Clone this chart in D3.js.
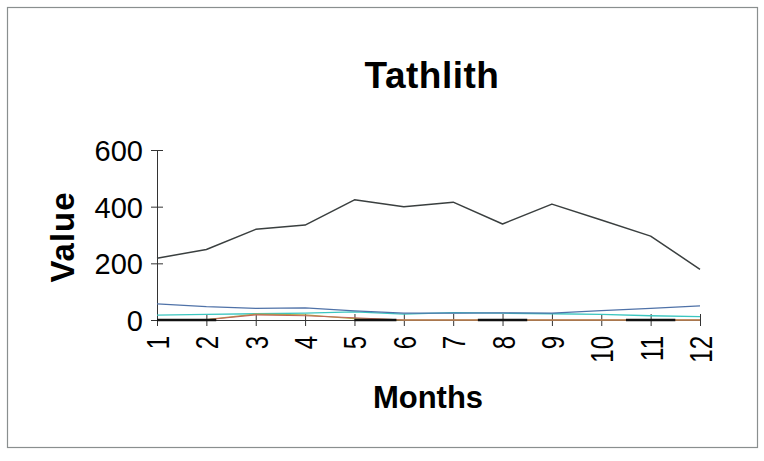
<!DOCTYPE html>
<html>
<head>
<meta charset="utf-8">
<script src="https://cdn.jsdelivr.net/npm/d3@7"></script>
<style>
  html, body { margin: 0; padding: 0; background: #fff; }
  svg { display: block; font-family: "Liberation Sans", Arial, sans-serif; }
</style>
</head>
<body>
<svg id="chart" width="764" height="461"></svg>
<script>
// Monthly values for Tathlith
const months = [1, 2, 3, 4, 5, 6, 7, 8, 9, 10, 11, 12];
const seriesMain   = [218, 249, 320, 335, 424, 400, 416, 339, 409, 353, 296, 179];
const seriesBlue   = [57, 47, 41, 43, 32, 24, 24, 25, 24, 33, 41, 50];
const seriesCyan   = [17, 20, 22, 24, 29, 21, 26, 24, 22, 20, 15, 12];
const seriesOlive  = [0, 1, 21, 18, 5, 0, 0, 0, 0, 0, 0, 0];
const seriesRed    = [0, 1, 18, 15, 8, 0, 0, 0, 0, 0, 0, 0];
const seriesBlack  = [0, 0, 0, 0, 0, 0, 0, 0, 0, 0, 0, 0];
const yTicks = [0, 200, 400, 600];

const svg = d3.select("#chart");

// outer chart frame
svg.append("rect")
  .attr("x", 7.5).attr("y", 7.5)
  .attr("width", 750).attr("height", 440)
  .attr("fill", "#fff")
  .attr("stroke", "#8a8f8f").attr("stroke-width", 1.2);

const x = d3.scalePoint().domain(months).range([157, 700]);
const y = d3.scaleLinear().domain([0, 600]).range([320, 150]);

// title
svg.append("text")
  .attr("x", 432).attr("y", 88)
  .attr("text-anchor", "middle")
  .attr("font-size", 37).attr("font-weight", "bold")
  .attr("letter-spacing", 0.5)
  .text("Tathlith");

// y axis
const yAxis = svg.append("g")
  .attr("transform", `translate(${x(1)},0)`)
  .call(d3.axisLeft(y).tickValues(yTicks).tickSizeInner(6).tickSizeOuter(0).tickPadding(8));
yAxis.select(".domain").attr("stroke", "#333");
yAxis.selectAll(".tick line").attr("stroke", "#333").attr("x2", 6).attr("x1", -6);
yAxis.selectAll(".tick text")
  .attr("font-size", 29).attr("fill", "#000")
  .attr("font-family", "'Liberation Sans', Arial, sans-serif")
  .attr("dy", "0.36em");

// x axis, labels turned to read upward in a condensed face
const xAxis = svg.append("g")
  .attr("transform", `translate(0,${y(0)})`)
  .call(d3.axisBottom(x).tickSizeInner(6).tickSizeOuter(0).tickPadding(6));
xAxis.select(".domain").attr("stroke", "#333");
xAxis.selectAll(".tick line").attr("stroke", "#333").attr("y1", -6).attr("y2", 6);
xAxis.selectAll(".tick text")
  .attr("font-size", 32).attr("fill", "#000")
  .attr("font-family", "'Liberation Sans', Arial, sans-serif")
  .attr("text-anchor", "end")
  .attr("transform", "translate(0,16) rotate(-90) scale(0.75,1)")
  .attr("x", 0).attr("y", 0).attr("dy", "0.36em");

// axis titles
svg.append("text")
  .attr("transform", "translate(74,237) rotate(-90)")
  .attr("text-anchor", "middle")
  .attr("font-size", 33).attr("font-weight", "bold")
  .attr("letter-spacing", 1)
  .text("Value");

svg.append("text")
  .attr("x", 428).attr("y", 408)
  .attr("text-anchor", "middle")
  .attr("font-size", 31).attr("font-weight", "bold")
  .text("Months");

// series lines
const line = d3.line().x((d, i) => x(months[i])).y(d => y(d));
const step = x.step();

const series = [
  { values: seriesCyan,  color: "#3cc6c0", width: 1.3 },
  { values: seriesBlue,  color: "#4f72a8", width: 1.3 },
  { values: seriesOlive, color: "#b3a54a", width: 1.3 },
  { values: seriesRed,   color: "#c0675a", width: 1.1 },
  { values: seriesMain,  color: "#3a3f3f", width: 1.5 }
];

series.forEach(s => {
  svg.append("path")
    .datum(s.values)
    .attr("fill", "none")
    .attr("stroke", s.color)
    .attr("stroke-width", s.width)
    .attr("stroke-linejoin", "round")
    .attr("d", line);
});

// dashed black series lying on zero
svg.append("path")
  .datum(seriesBlack)
  .attr("fill", "none")
  .attr("stroke", "#111")
  .attr("stroke-width", 2.6)
  .attr("stroke-dasharray", [1.2, 2.8, 0.85, 1.65, 1.0, 2.0, 1.0, 5].map(d => d * step).join(","))
  .attr("d", line);
</script>
</body>
</html>
